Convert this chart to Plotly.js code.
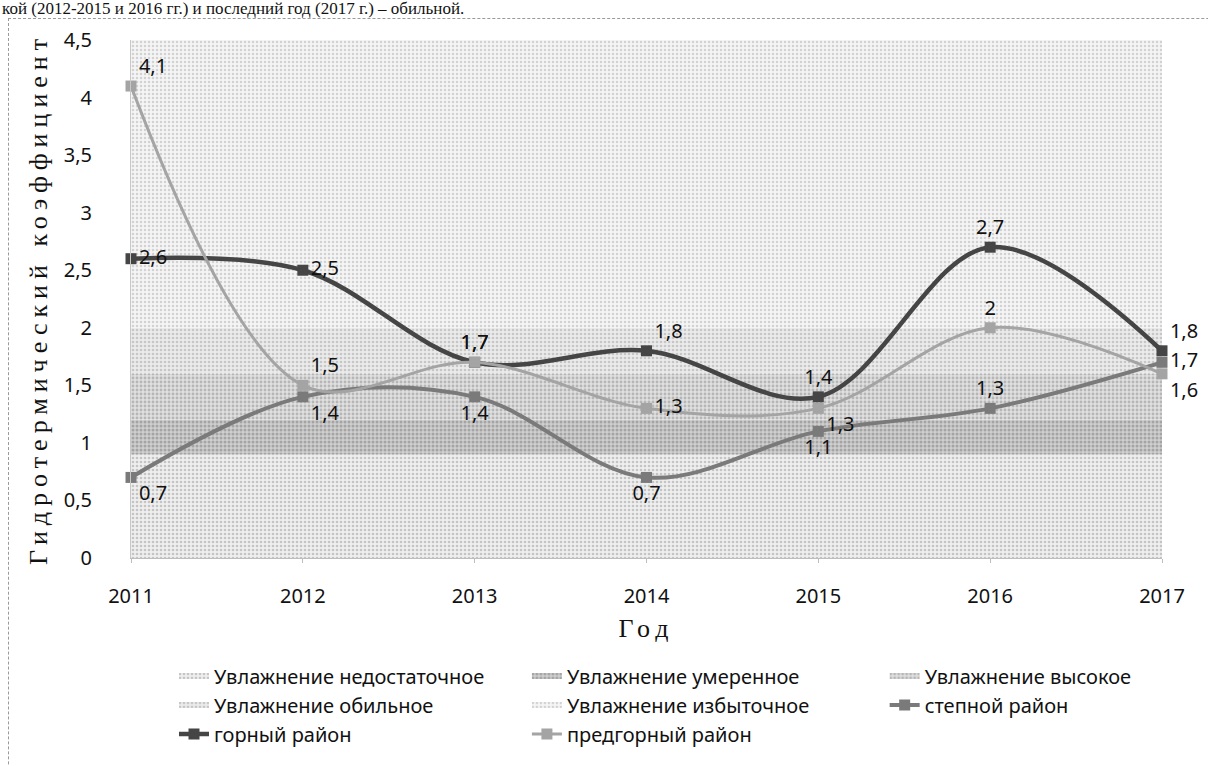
<!DOCTYPE html>
<html><head><meta charset="utf-8">
<script src="https://cdn.plot.ly/plotly-3.0.1.min.js"></script>
<style>
html,body{margin:0;padding:0;background:#fff;}
#wrap{position:relative;width:1208px;height:766px;overflow:hidden;}
#chart{position:absolute;left:0;top:0;width:1208px;height:766px;}
#frame{position:absolute;left:8px;top:18px;width:1400px;height:900px;border-top:1px dashed #9a9a9a;border-left:1px dashed #9a9a9a;pointer-events:none;}
#para{position:absolute;left:2px;top:0px;font-family:'Liberation Serif',serif;font-size:17px;line-height:17px;white-space:nowrap;color:#111;}
</style></head>
<body><div id="wrap"><div id="chart"></div><div id="para">кой (2012-2015 и 2016 гг.) и последний год (2017 г.) – обильной.</div><div id="frame"></div></div>
<script>
// ---- data ----
const years = [2011, 2012, 2013, 2014, 2015, 2016, 2017];
const yearLabels = ['2011', '2012', '2013', '2014', '2015', '2016', '2017'];

const zoneNames = ['Увлажнение недостаточное', 'Увлажнение умеренное', 'Увлажнение высокое', 'Увлажнение обильное', 'Увлажнение избыточное'];
const zoneInsufficient = [0.9, 0.9, 0.9, 0.9, 0.9, 0.9, 0.9];
const zoneModerate     = [0.3, 0.3, 0.3, 0.3, 0.3, 0.3, 0.3];
const zoneHigh         = [0.4, 0.4, 0.4, 0.4, 0.4, 0.4, 0.4];
const zoneAbundant     = [0.4, 0.4, 0.4, 0.4, 0.4, 0.4, 0.4];
const zoneExcessive    = [2.5, 2.5, 2.5, 2.5, 2.5, 2.5, 2.5];

const districtNames = ['степной район', 'горный район', 'предгорный район'];
const steppe    = [0.7, 1.4, 1.4, 0.7, 1.1, 1.3, 1.7];
const mountain  = [2.6, 2.5, 1.7, 1.8, 1.4, 2.7, 1.8];
const foothill  = [4.1, 1.5, 1.7, 1.3, 1.3, 2.0, 1.6];

const yTicks = [0, 0.5, 1, 1.5, 2, 2.5, 3, 3.5, 4, 4.5];

// ---- helpers ----
const fmt = v => String(v).replace('.', ',');
const sans = 'Noto Sans, Open Sans, sans-serif';
const labelFont = {family: sans, size: 20, color: '#111'};

function zone(name, vals, legendId, bg, fg, sol) {
  return {
    type: 'scatter', mode: 'none', name: name, x: years, y: vals,
    stackgroup: 'zones', fill: 'tonexty', fillcolor: bg,
    fillpattern: {shape: '.', bgcolor: bg, fgcolor: fg, size: 4, solidity: sol},
    legend: legendId, hoverinfo: 'skip'
  };
}
function district(name, vals, legendId, color, width, positions) {
  return {
    type: 'scatter', mode: 'lines+markers+text', name: name, x: years, y: vals,
    line: {color: color, width: width, shape: 'spline', smoothing: 1},
    marker: {symbol: 'square', size: 11, color: color},
    text: vals.map(fmt), textposition: positions, textfont: labelFont,
    cliponaxis: false, legend: legendId
  };
}

const traces = [
  zone(zoneNames[0], zoneInsufficient, 'legend',  '#efefef', '#c4c4c4', 0.35),
  zone(zoneNames[1], zoneModerate,     'legend2', '#cfcfcf', '#a4a4a4', 0.45),
  zone(zoneNames[2], zoneHigh,         'legend3', '#e0e0e0', '#b6b6b6', 0.4),
  zone(zoneNames[3], zoneAbundant,     'legend',  '#ebebeb', '#c6c6c6', 0.35),
  zone(zoneNames[4], zoneExcessive,    'legend2', '#f5f5f5', '#d2d2d2', 0.3),
  district(districtNames[0], steppe, 'legend3', '#7a7a7a', 4,
    ['bottom right', 'bottom right', 'bottom center', 'bottom center', 'bottom center', 'top center', 'middle right']),
  district(districtNames[1], mountain, 'legend', '#454545', 4.5,
    ['middle right', 'middle right', 'top center', 'top right', 'top center', 'top center', 'top right']),
  district(districtNames[2], foothill, 'legend2', '#a4a4a4', 3,
    ['top right', 'top right', 'top center', 'middle right', 'bottom right', 'top center', 'bottom right'])
];

const legendFont = {family: sans, size: 20, color: '#111'};
function leg(x) {
  return {x: x, y: -0.19, xanchor: 'left', yanchor: 'top', orientation: 'v',
    font: legendFont, bgcolor: 'rgba(0,0,0,0)', traceorder: 'normal', itemclick: false};
}

const layout = {
  width: 1208, height: 766,
  margin: {l: 131, r: 46, t: 40, b: 201},
  paper_bgcolor: '#ffffff', plot_bgcolor: '#ffffff',
  separators: ', ',
  showlegend: true,
  legend: leg(0.0417), legend2: leg(0.384), legend3: leg(0.731),
  xaxis: {
    type: 'linear', range: [2011, 2017], tickvals: years, ticktext: yearLabels,
    showgrid: false, zeroline: false, showline: true, linecolor: '#bdbdbd', linewidth: 1,
    ticks: 'outside', ticklen: 4, tickcolor: '#bdbdbd', ticklabelstandoff: 16,
    tickfont: {family: sans, size: 20, color: '#111'},
    title: {text: 'Год', standoff: 10, font: {family: 'Liberation Serif, serif', size: 26, color: '#111'}}
  },
  yaxis: {
    range: [0, 4.5], tickvals: yTicks, showgrid: false, zeroline: false,
    showline: true, linecolor: '#c8c8c8', linewidth: 1, ticks: '', ticklabelstandoff: 34,
    tickfont: {family: sans, size: 20, color: '#111'},
    title: {text: 'Гидротермический коэффициент', standoff: 8, font: {family: 'Liberation Serif, serif', size: 26, color: '#111'}}
  }
};

Plotly.newPlot('chart', traces, layout, {staticPlot: true}).then(function (gd) {
  const yt = gd.querySelector('.ytitle');
  if (yt) yt.style.letterSpacing = '6px';
  const xt = gd.querySelector('.xtitle');
  if (xt) xt.style.letterSpacing = '6px';
});
</script>
</body></html>
